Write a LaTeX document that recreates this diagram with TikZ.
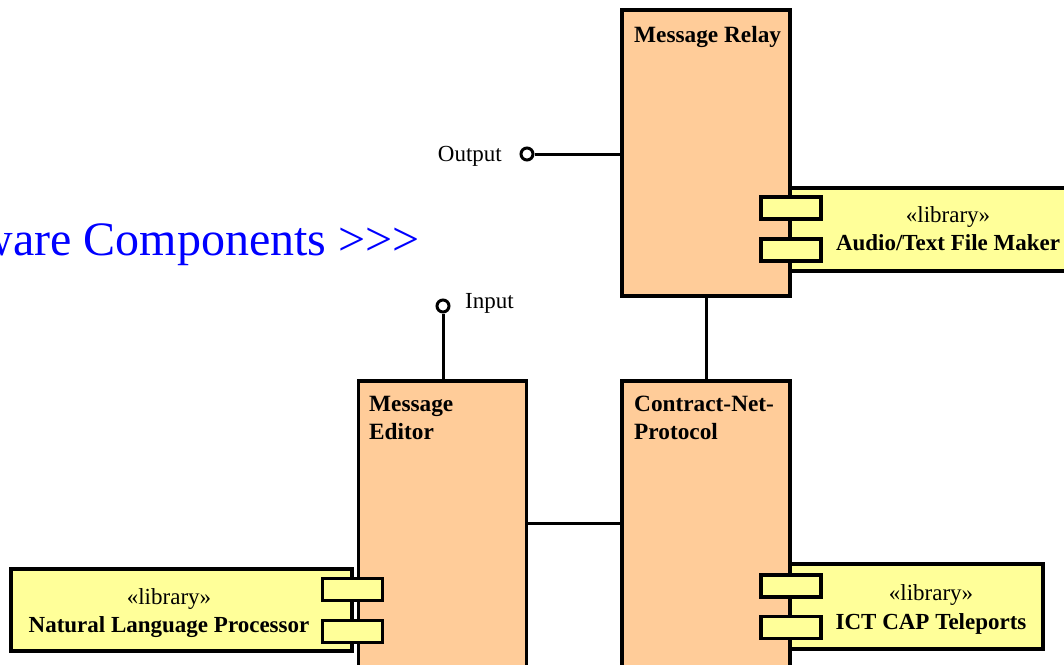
\documentclass[tikz,border=0pt]{standalone}
\usepackage{fontspec}
\setmainfont{Liberation Serif}
\definecolor{peach}{HTML}{FFCC99}
\definecolor{libyellow}{HTML}{FFFF99}
\definecolor{titleblue}{HTML}{0000FF}
\tikzset{
  comp/.style={draw=black, line width=3.2pt, fill=peach, rectangle, inner sep=0pt},
  lib/.style={draw=black, line width=3.2pt, fill=libyellow, rectangle, inner sep=0pt},
  port/.style={draw=black, line width=3.2pt, fill=libyellow, rectangle, inner sep=0pt, minimum width=60pt, minimum height=22pt},
  conn/.style={draw=black, line width=3pt},
  lollipop/.style={circle, draw=black, line width=3pt, fill=white, inner sep=0pt, minimum size=12pt},
  ctitle/.style={font=\fontsize{23.3}{28}\selectfont\bfseries, inner sep=0pt, align=left},
  ltext/.style={font=\fontsize{23}{28}\selectfont, inner sep=0pt},
  lbold/.style={font=\fontsize{23}{28}\selectfont\bfseries, inner sep=0pt},
  plabel/.style={font=\fontsize{23}{28}\selectfont, inner sep=0pt},
}
\begin{document}
\begin{tikzpicture}[x=1pt, y=-1pt]
\useasboundingbox (0,0) rectangle (1064,664);
\clip (0,0) rectangle (1064,664);

% title text (clipped)
\node[font=\fontsize{48}{56}\selectfont, text=titleblue, inner sep=0pt, anchor=base east] (title) at (420,255) {ware Components >{}>{}>};

% components
\node[comp, minimum width=168pt, minimum height=286pt] (relay) at (706,153) {};
\node[comp, minimum width=168pt, minimum height=330pt] (editor) at (442.5,546) {};
\node[comp, minimum width=168pt, minimum height=330pt] (cnp) at (706,546) {};

\node[ctitle, anchor=base west] (relaylbl) at (634,42) {Message Relay};
\node[ctitle, anchor=base west] (editorlbl1) at (369,411) {Message};
\node[ctitle, anchor=base west] (editorlbl2) at (369,439) {Editor};
\node[ctitle, anchor=base west] (cnplbl1) at (634,411) {Contract-Net-};
\node[ctitle, anchor=base west] (cnplbl2) at (634,439) {Protocol};

% libraries
\node[lib, minimum width=300pt, minimum height=83pt] (audio) at (940,229.5) {};
\node[lib, minimum width=253pt, minimum height=85pt] (ict) at (916.5,606.5) {};
\node[lib, minimum width=341pt, minimum height=82pt] (nlp) at (181.5,610) {};

\node[ltext, anchor=base] (audiost) at (948,222) {«library»};
\node[lbold, anchor=base] (audioname) at (948,250) {Audio/Text File Maker};
\node[ltext, anchor=base] (ictst) at (931,600) {«library»};
\node[lbold, anchor=base] (ictname) at (931,629) {ICT CAP Teleports};
\node[ltext, anchor=base] (nlpst) at (169,604) {«library»};
\node[lbold, anchor=base] (nlpname) at (169,632) {Natural Language Processor};

% ports
\node[port] (ap1) at (791,208) {};
\node[port] (ap2) at (791,250) {};
\node[port] (ip1) at (791,586) {};
\node[port] (ip2) at (791,627.5) {};
\node[port] (np1) at (352.5,589.5) {};
\node[port] (np2) at (352.5,631.5) {};

% interfaces
\node[lollipop] (outport) at (527,154) {};
\node[plabel, anchor=base east] (outlbl) at (502,161) {Output};
\draw[conn] (outport.east) -- (outport.east -| relay.west);

\node[lollipop] (inport) at (443,306) {};
\node[plabel, anchor=base west] (inlbl) at (465,308) {Input};
\draw[conn] (inport.south) -- (inport.south |- editor.north);

% connectors
\draw[conn] (relay.south) -- (cnp.north);
\coordinate (linky) at (0,523);
\draw[conn] (editor.east |- linky) -- (cnp.west |- linky);
\end{tikzpicture}
\end{document}
